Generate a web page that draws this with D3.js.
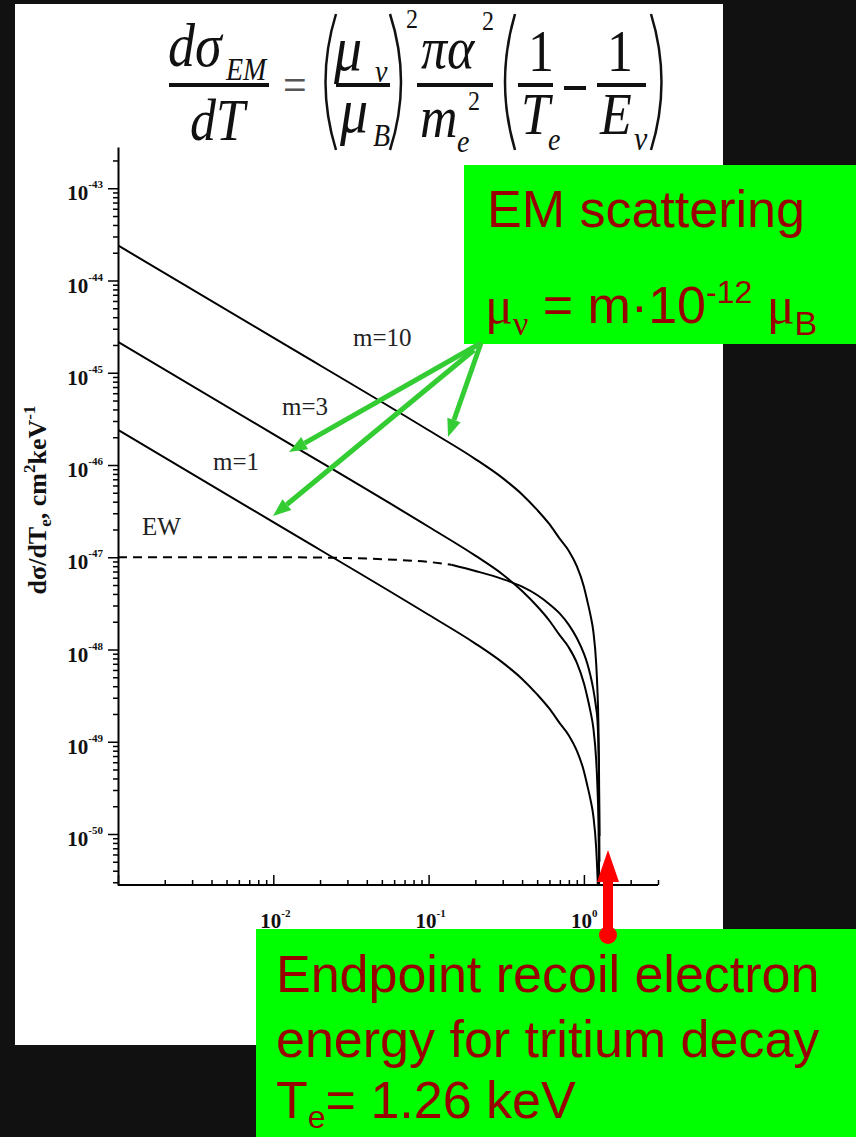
<!DOCTYPE html>
<html>
<head>
<meta charset="utf-8">
<script src="https://cdnjs.cloudflare.com/ajax/libs/d3/7.8.5/d3.min.js"></script>
<style>
	body { margin: 0; background: #111; }
	svg { display: block; }
</style>
</head>
<body>
<div id="chart"></div>
<script>
// Recoil energy T_e (keV) sampled along the EM curves
var emEnergy = [0.001, 0.01, 0.1, 0.2, 0.3, 0.4, 0.5, 0.6, 0.7, 0.8, 0.9, 1.0, 1.05, 1.1, 1.15, 1.2, 1.22, 1.24, 1.25, 1.26];
// dσ/dT_e, cm^2 keV^-1
var em1 = [2.4e-46, 2.4e-47, 2.38e-48, 1.16e-48, 7.2e-49, 4.8e-49, 3.26e-49, 2.28e-49, 1.58e-49, 1.17e-49, 8.0e-50, 4.8e-50, 3.4e-50, 2.4e-50, 1.57e-50, 7.0e-51, 3.9e-51, 1.55e-51, 5.8e-52, 9.5e-53];
var em3 = [2.16e-45, 2.16e-46, 2.14e-47, 1.04e-47, 6.5e-48, 4.3e-48, 2.94e-48, 2.05e-48, 1.42e-48, 1.05e-48, 7.2e-49, 4.3e-49, 3.1e-49, 2.16e-49, 1.41e-49, 6.3e-50, 3.5e-50, 1.4e-50, 5.2e-51, 8.6e-52];
var em10 = [2.4e-44, 2.4e-45, 2.38e-46, 1.16e-46, 7.2e-47, 4.8e-47, 3.26e-47, 2.28e-47, 1.58e-47, 1.17e-47, 8.0e-48, 4.8e-48, 3.4e-48, 2.4e-48, 1.57e-48, 7.0e-49, 3.9e-49, 1.55e-49, 5.8e-50, 9.5e-51];
// Electroweak curve
var ewEnergy = [0.001, 0.01, 0.03, 0.06, 0.1, 0.14, 0.2, 0.3, 0.4, 0.5, 0.6, 0.7, 0.8, 0.9, 1.0, 1.05, 1.1, 1.15, 1.2, 1.22, 1.24, 1.25, 1.26];
var ew = [1.0e-47, 1.0e-47, 9.8e-48, 9.4e-48, 8.9e-48, 8.3e-48, 7.1e-48, 5.8e-48, 4.8e-48, 3.9e-48, 3.1e-48, 2.45e-48, 1.85e-48, 1.33e-48, 9.0e-49, 7.1e-49, 5.3e-49, 3.7e-49, 2.3e-49, 1.8e-49, 9e-50, 4e-50, 5e-51];
var ewDashedCount = 6; // first points drawn dashed
var xLabelExps = [-2, -1, 0];
var yLabelExps = [-43, -44, -45, -46, -47, -48, -49, -50];
var curveLabels = ["m=10", "m=3", "m=1", "EW"];

var width = 856, height = 1137;
var margin = {left: 118, top: 147, right: 198, bottom: 252};
var pw = width - margin.left - margin.right,
		ph = height - margin.top - margin.bottom;

var svg = d3.select("#chart").append("svg")
		.attr("width", width)
		.attr("height", height);

svg.append("rect").attr("width", width).attr("height", height).attr("fill", "#111");
// white page
svg.append("rect").attr("x", 15).attr("y", 4).attr("width", 708).attr("height", 1041).attr("fill", "#fff");

var serif = "'Liberation Serif', 'Times New Roman', serif",
		sans = "'Liberation Sans', Arial, sans-serif";

// ---- formula ----
var fx = svg.append("g").attr("class", "formula").attr("fill", "#111").style("font-family", serif);

function ftext(x, y, str, size, italic) {
	return fx.append("text")
			.attr("transform", "translate(" + x + "," + y + ") scale(1,1.15)")
			.style("font-size", size + "px")
			.style("font-style", italic ? "italic" : "normal")
			.text(str);
}
function fbar(x1, x2, y) {
	fx.append("line").attr("x1", x1).attr("x2", x2).attr("y1", y).attr("y2", y)
			.attr("stroke", "#111").attr("stroke-width", 4);
}
function paren(xa, xb, open) {
	var p = d3.path();
	var xTip = open ? xb : xa, xMid = open ? xa - 4 : xb + 4;
	p.moveTo(xTip, 14);
	p.quadraticCurveTo(xMid, 82, xTip, 150);
	fx.append("path").attr("d", p.toString()).attr("fill", "none").attr("stroke", "#111").attr("stroke-width", 2.5);
}

ftext(168, 66, "dσ", 54, true);
ftext(226, 80, "EM", 28, true);
fbar(169, 269, 85);
ftext(190, 140, "dT", 52, true);
ftext(283, 101, "=", 42, false).attr("fill", "#555");
paren(319, 336, true);
ftext(334, 70, "μ", 56, true);
ftext(375, 82, "ν", 28, true);
fbar(336, 390, 85);
ftext(340, 132, "μ", 56, true);
ftext(373, 146, "B", 28, true);
paren(390, 408, false);
ftext(406, 28, "2", 24, false);
ftext(421, 68, "πα", 52, true);
ftext(482, 30, "2", 24, false);
fbar(417, 493, 85);
ftext(420, 137, "m", 52, true);
ftext(457, 152, "e", 28, true);
ftext(468, 110, "2", 24, false);
paren(499, 515, true);
ftext(528, 71, "1", 52, false);
fbar(518, 553, 85);
ftext(521, 134, "T", 52, true);
ftext(548, 150, "e", 28, true);
fbar(564, 586, 88);
ftext(607, 71, "1", 52, false);
fbar(597, 646, 85);
ftext(600, 134, "E", 52, true);
ftext(634, 150, "ν", 30, true);
paren(651, 668, false);

// ---- plot ----
var xScale = d3.scaleLog().domain([0.001, 3]).range([0, pw]);
var yScale = d3.scaleLog().domain([2.8e-51, 2.8e-43]).range([ph, 0]);

var g = svg.append("g").attr("transform", "translate(" + margin.left + "," + margin.top + ")");

function isMajor(d) { var l = Math.log10(d); return Math.abs(l - Math.round(l)) < 1e-6; }

svg.append("clipPath").attr("id", "plotclip")
	.append("rect").attr("x", 0).attr("y", 0).attr("width", pw).attr("height", ph);

var line = d3.line()
		.x(function(d) { return xScale(d[0]); })
		.y(function(d) { return yScale(d[1]); })
		.curve(d3.curveMonotoneX);

function pairs(xs, ys) { return xs.map(function(x, i) { return [x, ys[i]]; }); }

var body = g.append("g").attr("clip-path", "url(#plotclip)");
[em10, em3, em1].forEach(function(s) {
	body.append("path").attr("d", line(pairs(emEnergy, s)))
			.attr("fill", "none").attr("stroke", "#000").attr("stroke-width", 2);
});
var ewPts = pairs(ewEnergy, ew);
body.append("path").attr("d", line(ewPts.slice(0, ewDashedCount)))
		.attr("fill", "none").attr("stroke", "#000").attr("stroke-width", 2).attr("stroke-dasharray", "9,6");
body.append("path").attr("d", line(ewPts.slice(ewDashedCount - 1)))
		.attr("fill", "none").attr("stroke", "#000").attr("stroke-width", 2);

// y axis, ticks outward
var yAxis = d3.axisLeft(yScale).tickFormat("").tickSizeOuter(0);
var gy = g.append("g").call(yAxis);
gy.selectAll(".tick line").attr("x2", function(d) { return isMajor(d) ? -10 : -5; }).attr("stroke-width", 1.5);
gy.select(".domain").attr("stroke-width", 2);

// x axis, ticks inward
var xAxis = d3.axisBottom(xScale).tickFormat("").tickSizeOuter(0);
var gx = g.append("g").attr("transform", "translate(0," + ph + ")").call(xAxis);
gx.selectAll(".tick line").attr("y2", function(d) { return isMajor(d) ? -10 : -5; }).attr("stroke-width", 1.5);
gx.select(".domain").attr("stroke-width", 2).attr("d", "M0,0H" + pw);

// tick labels
yLabelExps.forEach(function(e) {
	var t = g.append("text")
			.attr("x", -15).attr("y", yScale(Math.pow(10, e)) + 12)
			.attr("text-anchor", "end")
			.style("font-family", serif).style("font-weight", "bold").style("font-size", "21px")
			.attr("fill", "#111");
	t.append("tspan").text("10");
	t.append("tspan").attr("dy", -12).style("font-size", "11px").text(e);
});
xLabelExps.forEach(function(e) {
	var t = g.append("text")
			.attr("x", xScale(Math.pow(10, e)) - 13).attr("y", ph + 43)
			.style("font-family", serif).style("font-weight", "bold").style("font-size", "21px")
			.attr("fill", "#111");
	t.append("tspan").text("10");
	t.append("tspan").attr("dy", -11).style("font-size", "11px").text(e);
});

// y axis title
var yt = svg.append("text")
		.attr("transform", "translate(46,500) rotate(-90)")
		.attr("text-anchor", "middle")
		.style("font-family", serif).style("font-weight", "bold").style("font-size", "26px")
		.attr("fill", "#111");
yt.append("tspan").text("dσ/dT");
yt.append("tspan").attr("dy", 5).style("font-size", "17px").text("e");
yt.append("tspan").attr("dy", -5).text(", cm");
yt.append("tspan").attr("dy", -11).style("font-size", "17px").text("2");
yt.append("tspan").attr("dy", 11).text("keV");
yt.append("tspan").attr("dy", -11).style("font-size", "17px").text("-1");

// curve labels
var labelPos = [[353, 346], [282, 415], [213, 470], [142, 535]];
svg.selectAll(".clabel").data(curveLabels).enter().append("text")
		.attr("class", "clabel")
		.attr("x", function(d, i) { return labelPos[i][0]; })
		.attr("y", function(d, i) { return labelPos[i][1]; })
		.style("font-family", serif).style("font-size", "25px").attr("fill", "#222")
		.text(function(d) { return d; });

// ---- annotations ----
var green = "#00ff00", darkRed = "#990000", arrowGreen = "#33cc33";

function arrow(x1, y1, x2, y2, color, w, headLen, headW) {
	var a = Math.atan2(y2 - y1, x2 - x1);
	var bx = x2 - headLen * Math.cos(a), by = y2 - headLen * Math.sin(a);
	svg.append("line").attr("x1", x1).attr("y1", y1).attr("x2", bx).attr("y2", by)
			.attr("stroke", color).attr("stroke-width", w);
	var px = -Math.sin(a) * headW, py = Math.cos(a) * headW;
	svg.append("path")
			.attr("d", "M" + x2 + "," + y2 + "L" + (bx + px) + "," + (by + py) + "L" + (bx - px) + "," + (by - py) + "Z")
			.attr("fill", color);
}

// EM box
svg.append("rect").attr("x", 464).attr("y", 165).attr("width", 392).attr("height", 179).attr("fill", green);
svg.append("text").attr("x", 487).attr("y", 227)
		.style("font-family", sans).style("font-size", "52px").attr("fill", darkRed)
		.text("EM scattering");
var mu = svg.append("text").attr("x", 485).attr("y", 323)
		.style("font-family", sans).style("font-size", "52px").attr("fill", darkRed);
mu.append("tspan").style("font-family", serif).text("μ");
mu.append("tspan").attr("dy", 12).style("font-family", serif).style("font-size", "34px").text("ν");
mu.append("tspan").attr("dy", -12).text(" = m·10");
mu.append("tspan").attr("dy", -20).style("font-size", "32px").text("-12");
mu.append("tspan").attr("dy", 20).text(" ");
mu.append("tspan").style("font-family", serif).text("μ");
mu.append("tspan").attr("dy", 12).style("font-size", "34px").text("B");

arrow(481, 343, 448, 437, arrowGreen, 5, 18, 7);
arrow(481, 343, 289, 452, arrowGreen, 5, 18, 7);
arrow(474, 350, 273, 516, arrowGreen, 5, 18, 7);

// endpoint box
svg.append("rect").attr("x", 256).attr("y", 929).attr("width", 600).attr("height", 208).attr("fill", green);
var ep = svg.append("text").style("font-family", sans).style("font-size", "52px").attr("fill", darkRed);
ep.append("tspan").attr("x", 276).attr("y", 992).text("Endpoint recoil electron");
ep.append("tspan").attr("x", 276).attr("y", 1057).text("energy for tritium decay");
var l3 = svg.append("text").attr("x", 276).attr("y", 1118)
		.style("font-family", sans).style("font-size", "52px").attr("fill", darkRed);
l3.append("tspan").text("T");
l3.append("tspan").attr("dy", 10).style("font-size", "32px").text("e");
l3.append("tspan").attr("dy", -10).text("= 1.26 keV");

// red arrow to endpoint
arrow(608, 935, 608, 850, "#ff0000", 10, 32, 11);
svg.append("circle").attr("cx", 608).attr("cy", 935).attr("r", 9).attr("fill", "#ff0000");
</script>
</body>
</html>
